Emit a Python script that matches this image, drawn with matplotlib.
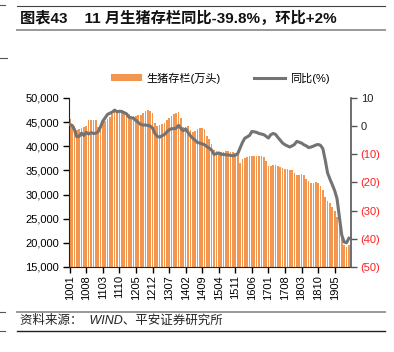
import matplotlib
matplotlib.use("Agg")
import matplotlib.pyplot as plt
import numpy as np
from matplotlib.lines import Line2D
from matplotlib.patches import Patch
from matplotlib.ticker import FuncFormatter, MultipleLocator

plt.rcParams["font.family"] = ["Liberation Sans", "Noto Sans CJK SC", "DejaVu Sans"]

W, H = 394, 352

# monthly hog inventory (10k head), 2010-01 .. 2019-11
inventory = [
    45600, 44300, 44200, 43400, 43500, 43800, 44000, 44300, 45500, 45500, 45500, 45500,
    43900, 44500, 45000, 45300, 45700, 46100, 46600, 47000, 47300, 47600, 47500, 47100,
    46900, 46600, 46000, 46200, 46300, 46400, 46500, 46800, 47300, 47500, 47400, 46800,
    44900, 44300, 44500, 44700, 44800, 45500, 45900, 46300, 46600, 46900, 47000, 45800,
    44000, 43900, 44100, 43300, 43000, 43100, 43500, 43700, 43700, 43600, 42200, 41600,
    40400, 39300, 39000, 38900, 38800, 38900, 39000, 39000, 38900, 38800, 38600, 38400,
    36600, 37300, 37600, 37700, 37900, 38000, 38000, 38000, 38000, 37900, 37700, 37000,
    35900, 36000, 36200, 36200, 35900, 35700, 35500, 35300, 35200, 35100, 35000, 34400,
    34000, 34100, 34200, 34000, 33300, 32800, 32500, 32400, 32600, 32500, 31800, 31000,
    29500, 28700, 28200, 27400, 26700, 25300, 23600, 21300, 19600, 19100, 19500,
]

# year-on-year change (%)
yoy = [
    0.6, 0.3, -1.2, -3.8, -3.6, -2.5, -3.3, -2.2, -2.8, -2.3, -2.6, -2.5,
    -2.0, -0.3, 1.8, 3.0, 4.2, 4.6, 5.0, 5.7, 5.1, 5.3, 5.2, 4.8,
    4.4, 3.2, 3.0, 2.8, 2.0, 1.3, 0.6, 0.4, 0.4, 0.3, 0.0, -0.6,
    -2.6, -3.6, -3.9, -3.4, -3.0, -2.1, -1.3, -0.9, -0.9, -0.7, 0.3, -0.8,
    -1.6, -1.0, -2.2, -3.4, -4.3, -5.0, -5.8, -6.0, -6.3, -6.6, -7.3, -7.8,
    -8.5, -10.0, -9.8, -9.5, -10.0, -10.0, -10.2, -10.2, -10.4, -10.5, -10.3, -9.8,
    -7.8, -5.8, -4.3, -3.8, -3.3, -1.9, -2.0, -2.2, -2.6, -2.8, -3.0, -3.6,
    -4.2, -3.0, -2.6, -2.9, -4.0, -5.0, -6.0, -6.6, -7.0, -7.4, -7.0, -6.5,
    -5.4, -5.7, -6.0, -6.6, -7.0, -7.6, -7.4, -7.1, -6.7, -6.5, -6.8, -8.0,
    -12.0, -16.6, -18.8, -20.8, -22.9, -25.8, -32.3, -38.7, -41.1, -41.4, -39.8,
]

months = [f"{y % 100:02d}{m:02d}" for y in range(2010, 2020) for m in range(1, 13)][:len(inventory)]

title = "图表43    11 月生猪存栏同比-39.8%，环比+2%"
source = "资料来源：  WIND、平安证券研究所"
bar_label = "生猪存栏(万头)"
line_label = "同比(%)"

bar_color = "#F39650"
line_color = "#737373"


def fx(px):
    return px / W


def fy(py):
    return 1 - py / H


fig = plt.figure(figsize=(W / 100, H / 100), dpi=100)
ax = fig.add_axes([fx(69), fy(267), fx(351) - fx(69), fy(98) - fy(267)])

x = np.arange(len(inventory))
ax.bar(x, inventory, width=0.7, color=bar_color, linewidth=0)
ax.set_ylim(15000, 50000)
ax.set_xlim(-0.3, len(inventory) - 0.1)
ax.yaxis.set_major_locator(MultipleLocator(5000))
ax.yaxis.set_major_formatter(FuncFormatter(lambda v, p: f"{int(v):,}"))
ax.tick_params(axis="y", labelsize=8, length=4, width=1, direction="out", pad=3)

tick_idx = list(range(0, len(inventory), 7))
ax.set_xticks(tick_idx)
ax.set_xticklabels([months[i] for i in tick_idx], rotation=90, fontsize=8)
ax.tick_params(axis="x", length=4, width=1, direction="out", pad=2)

for side in ["top", "right"]:
    ax.spines[side].set_visible(False)
ax.spines["left"].set_color("#222222")
ax.spines["bottom"].set_color("#222222")

ax2 = ax.twinx()
ax2.plot(x, yoy, color=line_color, linewidth=2.2)
ax2.set_ylim(-50, 10)
ax2.yaxis.set_major_locator(MultipleLocator(10))
ax2.yaxis.set_major_formatter(
    FuncFormatter(lambda v, p: f"({abs(int(round(v)))})" if v < 0 else f"{int(round(v))}")
)
ax2.tick_params(axis="y", labelsize=8, length=4, width=1, direction="out", pad=3,
                color="#555555")
for side in ["top", "left", "bottom"]:
    ax2.spines[side].set_visible(False)
ax2.spines["right"].set_color("#555555")
ax2.spines["right"].set_linewidth(1.2)
fig.canvas.draw()
for lbl in ax2.get_yticklabels():
    txt = lbl.get_text()
    lbl.set_color("#FF2020" if txt.startswith("(") else "#222222")

handles = [Patch(facecolor=bar_color, edgecolor="none"),
           Line2D([0], [0], color=line_color, linewidth=2.2)]
fig.legend(handles, [bar_label, line_label], loc="center",
           bbox_to_anchor=(fx(220), fy(78)), ncol=2, frameon=False, fontsize=8,
           handlelength=2.8, handleheight=0.6, columnspacing=3.0, handletextpad=0.4)


# header and footer rules
def hline(py, x0, x1, color, lw):
    fig.add_artist(Line2D([fx(x0), fx(x1)], [fy(py), fy(py)], color=color,
                          linewidth=lw, transform=fig.transFigure))


hline(6, 17, 385, "#444444", 0.8)
hline(30, 17, 385, "#999999", 1.4)
hline(311.5, 17, 385, "#999999", 1.4)
hline(330.5, 17, 385, "#222222", 1.0)
hline(5, 0, 5, "#555555", 0.8)
hline(58, 0, 7, "#555555", 0.8)
hline(311.5, 0, 5, "#555555", 0.8)
hline(330.5, 0, 5, "#555555", 0.8)

fig.text(fx(20), fy(18), title, fontsize=11, fontweight="bold", va="center",
         ha="left", color="#111111")
fig.text(fx(20), fy(321), source, fontsize=9, style="italic", va="center",
         ha="left", color="#222222")

fig.savefig("out.png", dpi=100)
